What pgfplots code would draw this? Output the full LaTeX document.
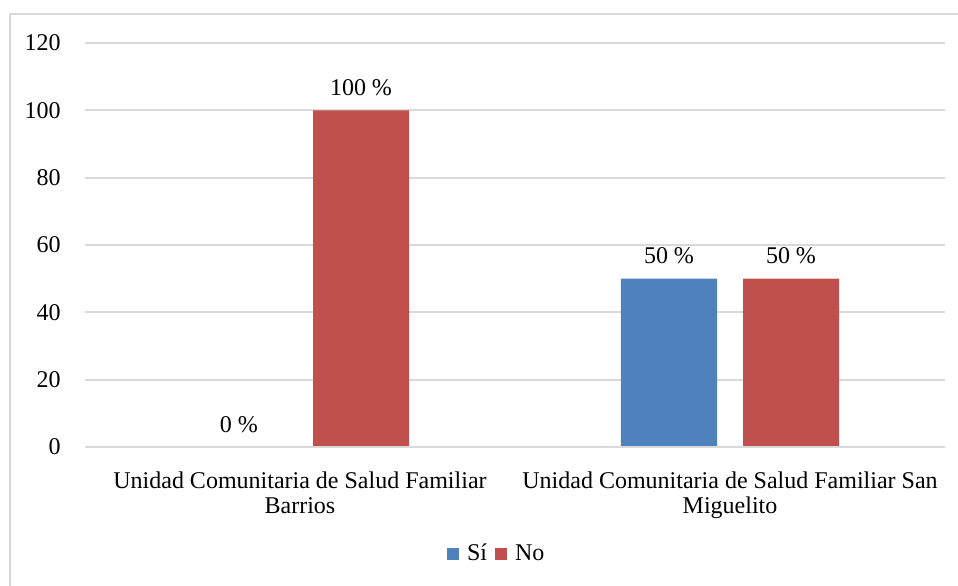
\documentclass[border=0pt]{standalone}
\usepackage{pgfplots}
\pgfplotsset{compat=1.18}
\usepackage{fontspec}
\setmainfont{Liberation Serif}
\definecolor{SiBlue}{HTML}{4F81BD}
\definecolor{NoRed}{HTML}{C0504D}
\definecolor{GridGray}{HTML}{D9D9D9}

\begin{document}
\begin{tikzpicture}
\fontsize{12}{13}\selectfont
\begin{axis}[
    name=ax,
    scale only axis,
    width=430pt, height=202pt,
    ybar=13pt,
    bar width=0.2233,
    xmin=-0.5, xmax=1.5,
    ymin=0, ymax=120,
    ytick={0,20,...,120},
    xtick={0,1},
    xticklabels={Unidad Comunitaria de Salud Familiar\\Barrios,
                 Unidad Comunitaria de Salud Familiar San\\Miguelito},
    xticklabel style={align=center, font=\fontsize{12}{12.5}\selectfont, yshift=-4pt},
    yticklabel style={font=\fontsize{12}{13}\selectfont, xshift=-8pt},
    /pgf/number format/assume math mode=true,
    axis line style={draw=none},
    tick style={draw=none},
    ymajorgrids,
    grid style={GridGray, line width=1pt},
    nodes near coords={\pgfmathprintnumber{\pgfplotspointmeta}~\%},
    every node near coord/.append style={font=\fontsize{12}{13}\selectfont, yshift=3pt},
    legend style={at={(0.48,-0.265)}, anchor=center, draw=none,
                  font=\fontsize{12}{13}\selectfont, column sep=2pt},
    legend columns=-1,
    legend image code/.code={\fill[#1] (0pt,-3pt) rectangle (6pt,3pt);},
]
\addplot[fill=SiBlue, draw=none] coordinates {(0,0) (1,50)};
\addplot[fill=NoRed, draw=none] coordinates {(0,100) (1,50)};
\legend{Sí,No}
\end{axis}
% baseline gridline over the zero-height bar
\draw[GridGray, line width=1pt] (ax.south west) -- (ax.south east);
\pgfresetboundingbox
\useasboundingbox ([xshift=-42.5pt,yshift=-69.5pt]ax.south west) rectangle ([xshift=6.5pt,yshift=21.5pt]ax.north east);
\draw[GridGray, line width=1.2pt]
  ([xshift=-37.5pt,yshift=-80pt]ax.south west) --
  ([xshift=-37.5pt,yshift=14.5pt]ax.north west) --
  ([xshift=20pt,yshift=14.5pt]ax.north east);
\end{tikzpicture}
\end{document}
